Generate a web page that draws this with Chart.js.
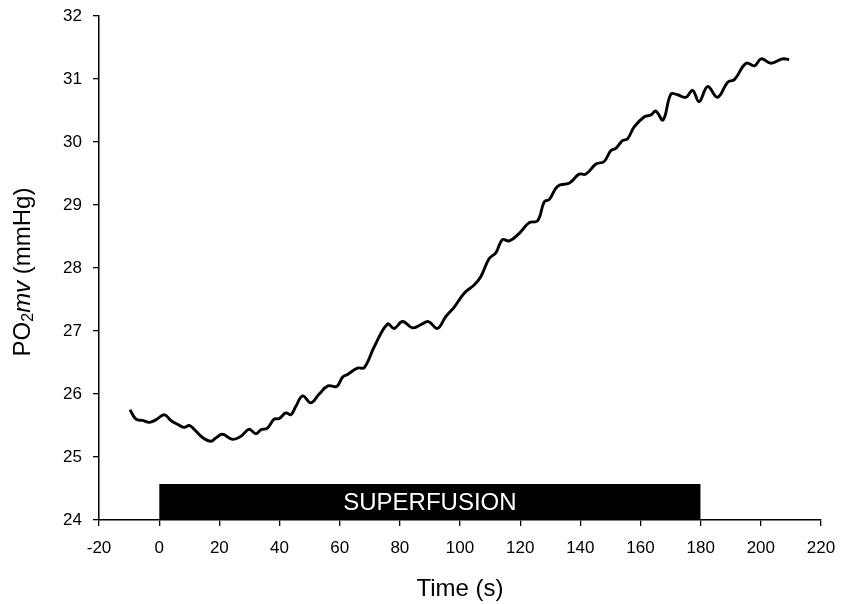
<!DOCTYPE html>
<html>
<head>
<meta charset="utf-8">
<script src="https://cdn.jsdelivr.net/npm/chart.js@4/dist/chart.umd.min.js"></script>
<style>
  html, body { margin: 0; padding: 0; background: #ffffff; }
  #wrap { width: 841px; height: 604px; }
</style>
</head>
<body>
<div id="wrap"><canvas id="c" width="841" height="604"></canvas></div>
<script>
// ---- data ----
const timeSeconds = [
  -9.7, -7.7, -5.5, -3.3, -1.1, 1.7, 3.9, 6.1, 8.3, 10.0,
  11.6, 14.4, 17.2, 18.8, 21.0, 24.4, 27.2, 29.9, 32.1, 33.8,
  36.0, 38.2, 39.9, 42.1, 43.8, 45.4, 47.7, 50.4, 53.2, 56.1,
  59.0, 61.0, 62.6, 65.9, 68.2, 71.5, 75.9, 78.1, 80.9, 84.2,
  87.0, 89.5, 92.5, 95.3, 98.1, 101.4, 104.7, 106.9, 109.7, 111.9,
  114.1, 116.4, 119.7, 123.0, 125.8, 128.0, 129.7, 132.5, 136.4, 139.6,
  141.8, 145.2, 147.9, 150.1, 151.8, 154.0, 155.7, 157.9, 161.3, 163.5,
  165.1, 167.5, 170.1, 172.3, 175.1, 177.3, 179.5, 182.3, 185.6, 189.0,
  191.2, 195.1, 197.9, 200.1, 203.4, 207.2, 209.4
];
const po2Values = [
  25.75, 25.60, 25.58, 25.55, 25.59, 25.67, 25.58, 25.52, 25.47, 25.50,
  25.44, 25.31, 25.25, 25.30, 25.36, 25.28, 25.33, 25.44, 25.37, 25.43,
  25.46, 25.60, 25.61, 25.70, 25.67, 25.80, 25.97, 25.86, 26.00, 26.13,
  26.12, 26.27, 26.31, 26.41, 26.42, 26.75, 27.11, 27.04, 27.15, 27.05,
  27.10, 27.15, 27.04, 27.23, 27.38, 27.60, 27.73, 27.86, 28.15, 28.24,
  28.45, 28.43, 28.55, 28.72, 28.75, 29.05, 29.09, 29.30, 29.35, 29.49,
  29.49, 29.65, 29.69, 29.86, 29.90, 30.02, 30.05, 30.24, 30.40, 30.43,
  30.49, 30.35, 30.76, 30.75, 30.71, 30.82, 30.64, 30.88, 30.71, 30.95,
  30.99, 31.25, 31.21, 31.32, 31.25, 31.32, 31.31
];
const xTickValues = [-20, 0, 20, 40, 60, 80, 100, 120, 140, 160, 180, 200, 220];
const yTickValues = [24, 25, 26, 27, 28, 29, 30, 31, 32];
const superfusionTimes = [0, 180];
const superfusionLevel = 24.57;
const superfusionLabel = 'SUPERFUSION';
const xTitle = 'Time (s)';
const yTitleParts = ['PO', '2', 'mv', ' (mmHg)'];

// ---- build ----
const FONT = "'Liberation Sans', Arial, Helvetica, sans-serif";
const linePoints = timeSeconds.map((t, i) => ({ x: t, y: po2Values[i] }));
const barPoints = superfusionTimes.map(t => ({ x: t, y: superfusionLevel }));

const overlayPlugin = {
  id: 'overlay',
  afterDraw(chart) {
    const ctx = chart.ctx;
    const xs = chart.scales.x, ys = chart.scales.y;
    // SUPERFUSION label
    const cx = xs.getPixelForValue((superfusionTimes[0] + superfusionTimes[1]) / 2);
    const cy = (ys.getPixelForValue(superfusionLevel) + ys.getPixelForValue(yTickValues[0])) / 2;
    ctx.save();
    ctx.fillStyle = '#ffffff';
    ctx.font = '24px ' + FONT;
    ctx.textAlign = 'center';
    ctx.textBaseline = 'middle';
    ctx.fillText(superfusionLabel, cx, cy + 1);
    ctx.restore();

    // Y axis title with subscript and italic
    const fonts = ['24px ' + FONT, '16px ' + FONT, 'italic 24px ' + FONT, '24px ' + FONT];
    const offs = [0, 6, 0, 0];
    ctx.save();
    const widths = yTitleParts.map((p, i) => { ctx.font = fonts[i]; return ctx.measureText(p).width; });
    const total = widths.reduce((a, b) => a + b, 0);
    const midY = (chart.chartArea.top + chart.chartArea.bottom) / 2 + 4;
    ctx.translate(23, midY);
    ctx.rotate(-Math.PI / 2);
    ctx.fillStyle = '#000';
    ctx.textBaseline = 'middle';
    ctx.textAlign = 'left';
    let x = -total / 2;
    yTitleParts.forEach((p, i) => {
      ctx.font = fonts[i];
      ctx.fillText(p, x, offs[i]);
      x += widths[i];
    });
    ctx.restore();
  }
};

new Chart(document.getElementById('c'), {
  type: 'line',
  data: {
    datasets: [
      {
        data: linePoints,
        borderColor: '#000000',
        borderWidth: 2.9,
        pointRadius: 0,
        tension: 0.4,
        fill: false
      },
      {
        data: barPoints,
        borderColor: '#000000',
        backgroundColor: '#000000',
        borderWidth: 0,
        pointRadius: 0,
        tension: 0,
        fill: 'start'
      }
    ]
  },
  options: {
    responsive: false,
    animation: false,
    devicePixelRatio: 1,
    layout: { padding: { top: 16, right: 20, left: 0, bottom: 0 } },
    plugins: { legend: { display: false }, tooltip: { enabled: false } },
    scales: {
      x: {
        type: 'linear',
        min: xTickValues[0],
        max: xTickValues[xTickValues.length - 1],
        afterBuildTicks: s => { s.ticks = xTickValues.map(v => ({ value: v })); },
        afterFit: s => { s.height = 84; s.paddingLeft = 0; s.paddingRight = 0; },
        border: { display: true, color: '#000', width: 1.5 },
        grid: { display: true, drawOnChartArea: false, drawTicks: true, tickLength: 6, color: '#000', lineWidth: 1.3 },
        ticks: { color: '#000', font: { family: FONT, size: 17 }, padding: 12, maxRotation: 0, autoSkip: false },
        title: { display: true, text: xTitle, color: '#000', font: { family: FONT, size: 24 }, padding: { top: 8, bottom: 0 } }
      },
      y: {
        type: 'linear',
        min: yTickValues[0],
        max: yTickValues[yTickValues.length - 1],
        afterBuildTicks: s => { s.ticks = yTickValues.map(v => ({ value: v })); },
        afterFit: s => { s.width = 99; s.paddingTop = 0; s.paddingBottom = 0; },
        border: { display: true, color: '#000', width: 1.5 },
        grid: { display: true, drawOnChartArea: false, drawTicks: true, tickLength: 6, color: '#000', lineWidth: 1.3 },
        ticks: { color: '#000', font: { family: FONT, size: 17 }, padding: 11 },
        title: { display: false }
      }
    }
  },
  plugins: [overlayPlugin]
});
</script>
</body>
</html>
